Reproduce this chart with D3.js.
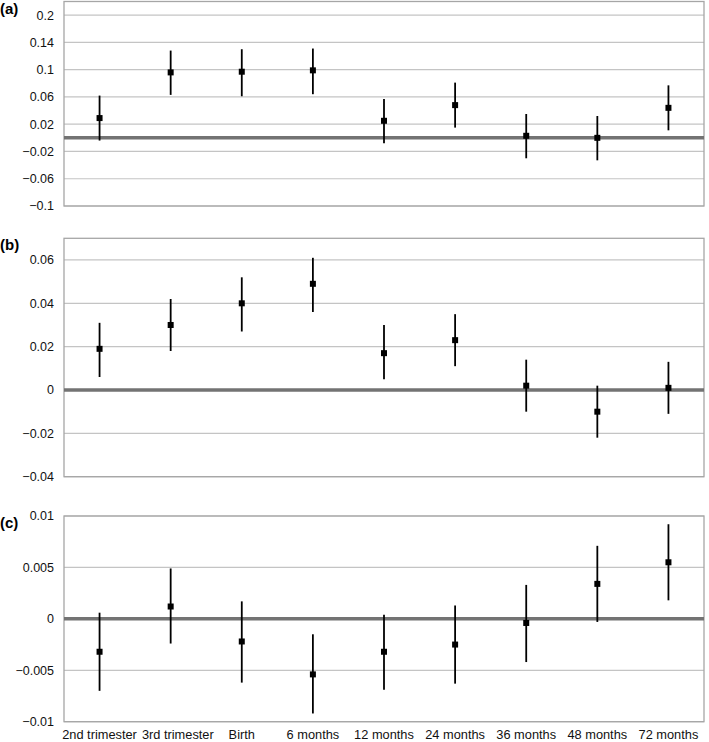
<!DOCTYPE html>
<html>
<head>
<meta charset="utf-8">
<script src="https://cdn.jsdelivr.net/npm/d3@7"></script>
<style>
  body { margin: 0; background: #fff; }
  text { font-family: "Liberation Sans", Arial, sans-serif; }
</style>
</head>
<body>
<div class="chart"></div>
<script>
const categories = ['2nd trimester', '3rd trimester', 'Birth', '6 months', '12 months',
                    '24 months', '36 months', '48 months', '72 months'];

// panel (a)
const estA = [0.029, 0.096, 0.097, 0.099, 0.025, 0.048, 0.003, 0.000, 0.044];
const lowA = [-0.004, 0.063, 0.061, 0.064, -0.008, 0.015, -0.030, -0.033, 0.011];
const highA = [0.062, 0.128, 0.130, 0.131, 0.057, 0.081, 0.035, 0.032, 0.077];
const ticksA = [-0.1, -0.06, -0.02, 0.02, 0.06, 0.1, 0.14, 0.18];
const tickLabelsA = ['\u22120.1', '\u22120.06', '\u22120.02', '0.02', '0.06', '0.1', '0.14', '0.2'];

// panel (b)
const estB = [0.019, 0.030, 0.040, 0.049, 0.017, 0.023, 0.002, -0.010, 0.001];
const lowB = [0.006, 0.018, 0.027, 0.036, 0.005, 0.011, -0.010, -0.022, -0.011];
const highB = [0.031, 0.042, 0.052, 0.061, 0.030, 0.035, 0.014, 0.002, 0.013];
const ticksB = [-0.04, -0.02, 0, 0.02, 0.04, 0.06];
const tickLabelsB = ['\u22120.04', '\u22120.02', '0', '0.02', '0.04', '0.06'];

// panel (c)
const estC = [-0.0032, 0.0012, -0.0022, -0.0054, -0.0032, -0.0025, -0.0004, 0.0034, 0.0055];
const lowC = [-0.0070, -0.0024, -0.0062, -0.0092, -0.0069, -0.0063, -0.0042, -0.0003, 0.0018];
const highC = [0.0006, 0.0049, 0.0017, -0.0015, 0.0004, 0.0013, 0.0033, 0.0071, 0.0092];
const ticksC = [-0.01, -0.005, 0, 0.005, 0.01];
const tickLabelsC = ['\u22120.01', '\u22120.005', '0', '0.005', '0.01'];

const width = 709;
const height = 742;
const left = 64;
const right = 704;

const svg = d3.select('.chart')
  .append('svg')
  .attr('width', width)
  .attr('height', height);

const x = d3.scaleBand()
  .domain(categories)
  .range([left, right]);

function drawPanel(tag, top, bottom, domain, est, low, high, ticks, labels, showX) {
  const y = d3.scaleLinear().domain(domain).range([bottom, top]);
  const g = svg.append('g');

  // gridlines
  g.selectAll('.grid')
    .data(ticks)
    .enter()
    .append('line')
    .attr('x1', left)
    .attr('x2', right)
    .attr('y1', d => y(d))
    .attr('y2', d => y(d))
    .attr('stroke', '#c4c4c4')
    .attr('stroke-width', 1.2);

  // frame
  g.append('rect')
    .attr('x', left)
    .attr('y', y(domain[1]))
    .attr('width', right - left)
    .attr('height', y(domain[0]) - y(domain[1]))
    .attr('fill', 'none')
    .attr('stroke', '#a6a6a6')
    .attr('stroke-width', 1.3);

  // zero line
  g.append('line')
    .attr('x1', left)
    .attr('x2', right)
    .attr('y1', y(0))
    .attr('y2', y(0))
    .attr('stroke', '#737373')
    .attr('stroke-width', 3.5);

  // y labels
  g.selectAll('.ylab')
    .data(ticks)
    .enter()
    .append('text')
    .attr('x', 54)
    .attr('y', d => y(d))
    .attr('dy', '0.35em')
    .attr('text-anchor', 'end')
    .attr('font-size', 12.5)
    .attr('fill', '#111')
    .text((d, i) => labels[i]);

  // error bars
  g.selectAll('.err')
    .data(categories)
    .enter()
    .append('line')
    .attr('x1', d => x(d) + x.bandwidth() / 2)
    .attr('x2', d => x(d) + x.bandwidth() / 2)
    .attr('y1', (d, i) => y(low[i]))
    .attr('y2', (d, i) => y(high[i]))
    .attr('stroke', '#000')
    .attr('stroke-width', 1.8);

  // points
  g.selectAll('.pt')
    .data(categories)
    .enter()
    .append('rect')
    .attr('x', d => x(d) + x.bandwidth() / 2 - 3)
    .attr('y', (d, i) => y(est[i]) - 3)
    .attr('width', 6)
    .attr('height', 6)
    .attr('fill', '#000');

  // panel tag
  g.append('text')
    .attr('x', 0)
    .attr('y', top + 12)
    .attr('font-size', 15)
    .attr('font-weight', 'bold')
    .attr('fill', '#000')
    .text(tag);

  if (showX) {
    let xlabs = g.selectAll('.xlab')
      .data(categories)
      .enter()
      .append('text')
      .attr('x', d => x(d) + x.bandwidth() / 2)
      .attr('y', 739)
      .attr('font-size', 12.8)
      .attr('fill', '#111')
      .text(d => d);

    // push labels right when they would run into the previous one
    let prevEnd = -Infinity;
    xlabs.each(function(d) {
      const w = this.getComputedTextLength();
      let start = x(d) + x.bandwidth() / 2 - w / 2;
      if (start < prevEnd + 5) start = prevEnd + 5;
      d3.select(this).attr('x', start);
      prevEnd = start + w;
    });
  }
}

drawPanel('(a)', 1.5, 206, [-0.1, 0.2], estA, lowA, highA, ticksA, tickLabelsA, false);
drawPanel('(b)', 238.3, 476.7, [-0.04, 0.07], estB, lowB, highB, ticksB, tickLabelsB, false);
drawPanel('(c)', 516, 721.7, [-0.01, 0.01], estC, lowC, highC, ticksC, tickLabelsC, true);
</script>
</body>
</html>
